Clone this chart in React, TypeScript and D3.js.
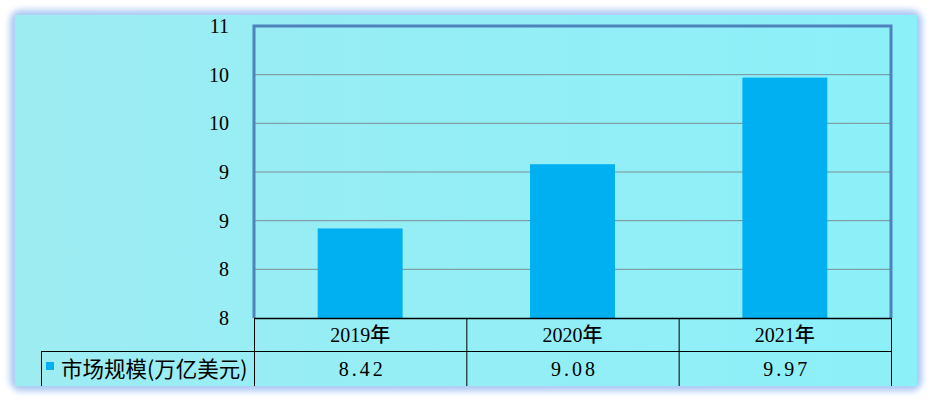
import React from 'react';
import * as d3 from 'd3';

// chart data
const years = ['2019年', '2020年', '2021年'];
const marketSize = [8.42, 9.08, 9.97];
const valueLabels = ['8.42', '9.08', '9.97'];
const seriesName = '市场规模(万亿美元)';
const yTicks = [7.5, 8, 8.5, 9, 9.5, 10, 10.5];
const yTickLabels = ['8', '8', '9', '9', '10', '10', '11'];

const W = 932;
const H = 402;
const plot = { left: 254, right: 891, top: 26, bottom: 318 };
const rowH = 33;
const legendLeft = 41;
const panel = { x: 15, y: 15, w: 902, h: 371 };

const serif = '"Liberation Serif", "DejaVu Serif", serif';
const cjk = '"Noto Sans CJK SC", "Noto Sans", sans-serif';

const App = () => {
  const x = d3.scaleBand<string>()
    .domain(years)
    .range([plot.left, plot.right])
    .paddingInner(0)
    .paddingOuter(0);

  const y = d3.scaleLinear()
    .domain([7.5, 10.5])
    .range([plot.bottom, plot.top]);

  const barW = x.bandwidth() * 0.4;
  const row1 = plot.bottom + rowH;
  const row2 = panel.y + panel.h;

  return (
    <svg width={W} height={H} style={{ position: 'absolute', left: 0, top: 0, background: '#fff' }}>
      <defs>
        <linearGradient id="bg" x1="0" x2="1" y1="0" y2="0">
          <stop offset="0%" stopColor="#9decf2" />
          <stop offset="100%" stopColor="#8cf0f9" />
        </linearGradient>
        <filter id="glow" x="-5%" y="-5%" width="110%" height="110%">
          <feGaussianBlur stdDeviation="3" />
        </filter>
      </defs>

      {/* glow frame */}
      <rect x={panel.x} y={panel.y} width={panel.w} height={panel.h} rx={6}
        fill="none" stroke="#a9c7f3" strokeWidth={10} filter="url(#glow)" />
      <rect x={panel.x} y={panel.y} width={panel.w} height={panel.h} fill="url(#bg)" />

      {/* gridlines */}
      {yTicks.slice(1, -1).map(t => (
        <line key={t} x1={plot.left} x2={plot.right} y1={y(t)} y2={y(t)}
          stroke="#7a8f96" strokeWidth={1} />
      ))}

      {/* bars */}
      {years.map((yr, i) => (
        <rect key={yr}
          x={(x(yr) as number) + (x.bandwidth() - barW) / 2}
          y={y(marketSize[i])}
          width={barW}
          height={plot.bottom - y(marketSize[i])}
          fill="#00b0f0" />
      ))}

      {/* plot border */}
      <path d={`M${plot.left},${plot.bottom} V${plot.top} H${plot.right} V${plot.bottom}`}
        fill="none" stroke="#4f81bd" strokeWidth={3} />

      {/* y tick labels */}
      {yTicks.map((t, i) => (
        <text key={i} x={229} y={y(t) + 7} textAnchor="end"
          fontFamily={serif} fontSize={20} fill="#000">{yTickLabels[i]}</text>
      ))}

      {/* data table */}
      <g stroke="#000" strokeWidth={1} fill="none">
        <line x1={plot.left} x2={plot.right} y1={plot.bottom + 0.5} y2={plot.bottom + 0.5} strokeWidth={1.5} />
        <line x1={legendLeft} x2={plot.right} y1={row1 + 0.5} y2={row1 + 0.5} />
        <line x1={legendLeft + 0.5} x2={legendLeft + 0.5} y1={row1} y2={row2} />
        {years.map(yr => (
          <line key={yr} x1={(x(yr) as number) + 0.5} x2={(x(yr) as number) + 0.5} y1={plot.bottom} y2={row2} />
        ))}
        <line x1={plot.right + 0.5} x2={plot.right + 0.5} y1={plot.bottom} y2={row2} />
      </g>

      {years.map((yr, i) => (
        <g key={yr}>
          <text x={(x(yr) as number) + x.bandwidth() / 2} y={plot.bottom + 24} textAnchor="middle"
            fontFamily={serif} fontSize={20} fill="#000">
            {yr.replace('年', '')}<tspan fontFamily={cjk} fontSize={20} fontWeight={500}>年</tspan>
          </text>
          <text x={(x(yr) as number) + x.bandwidth() / 2 + 2} y={row1 + 25} textAnchor="middle"
            fontFamily={serif} fontSize={20} letterSpacing={3} fill="#000">{valueLabels[i]}</text>
        </g>
      ))}

      {/* legend key */}
      <rect x={46} y={362} width={8} height={8} fill="#00b0f0" />
      <text x={61} y={row1 + 26} fontFamily={cjk} fontSize={21.5} fill="#000">{seriesName}</text>
    </svg>
  );
};

export default App;
